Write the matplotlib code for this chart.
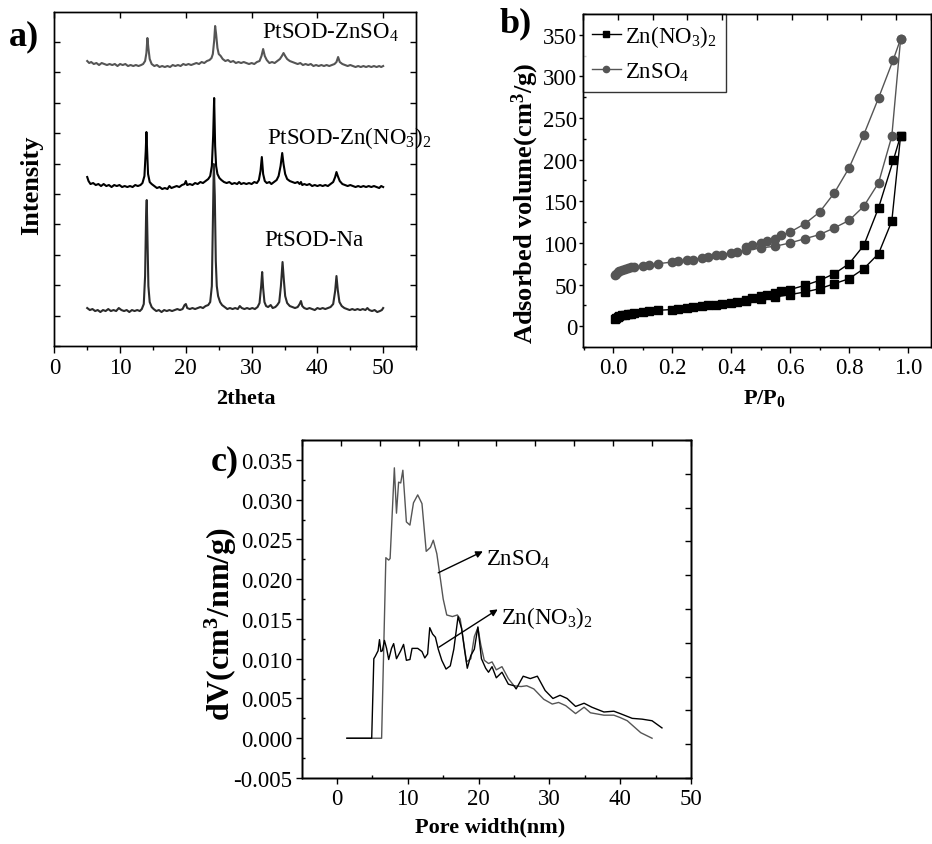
import matplotlib
matplotlib.use('Agg')
import matplotlib.pyplot as plt
from matplotlib.ticker import MultipleLocator, FormatStrFormatter

plt.rcParams['font.family'] = ['Liberation Serif', 'DejaVu Serif']
plt.rcParams['mathtext.fontset'] = 'custom'
plt.rcParams['mathtext.rm'] = 'Liberation Serif'
plt.rcParams['mathtext.it'] = 'Liberation Serif:italic'
plt.rcParams['mathtext.bf'] = 'Liberation Serif:bold'
plt.rcParams['axes.linewidth'] = 1.0

# ---- a) XRD patterns (2theta, intensity in arbitrary units) ----
na_2theta = [5.0, 5.4, 5.8, 6.2, 6.6, 7.0, 7.4, 7.8, 8.2, 8.6, 9.0, 9.4, 9.8, 10.2, 10.6, 11.0, 11.4, 11.8,
             12.2, 12.6, 13.0, 13.3, 13.6, 13.8, 13.95, 14.05, 14.15, 14.3, 14.5, 14.8, 15.1, 15.5, 15.9,
             16.3, 16.7, 17.1, 17.5, 17.9, 18.3, 18.7, 19.1, 19.5, 19.8, 20.0, 20.2, 20.6, 21.0, 21.4,
             21.8, 22.2, 22.6, 23.0, 23.4, 23.7, 23.95, 24.1, 24.25, 24.4, 24.55, 24.7, 24.9, 25.2, 25.5,
             25.9, 26.3, 26.7, 27.1, 27.5, 27.9, 28.2, 28.5, 28.9, 29.3, 29.7, 30.1, 30.5, 30.9, 31.2,
             31.45, 31.6, 31.75, 31.95, 32.2, 32.5, 32.9, 33.2, 33.6, 33.9, 34.2, 34.45, 34.7, 34.9, 35.1,
             35.4, 35.8, 36.2, 36.6, 37.0, 37.3, 37.5, 37.7, 38.0, 38.4, 38.8, 39.2, 39.6, 40.0, 40.4,
             40.8, 41.2, 41.6, 42.0, 42.4, 42.7, 42.9, 43.1, 43.35, 43.7, 44.1, 44.5, 44.9, 45.3, 45.7,
             46.1, 46.5, 46.9, 47.3, 47.6, 47.9, 48.3, 48.7, 49.1, 49.5, 49.8, 50.0]
na_int = [38, 36, 37, 35, 36, 34, 36, 35, 37, 35, 36, 35, 38, 36, 35, 36, 34, 36,
          35, 36, 35, 37, 42, 70, 130, 146, 110, 60, 44, 39, 37, 35, 36,
          34, 36, 35, 36, 35, 36, 37, 36, 37, 41, 42, 38, 37, 38, 37,
          38, 39, 38, 40, 41, 44, 60, 120, 182, 150, 85, 60, 50, 44, 41,
          39, 37, 38, 37, 38, 37, 40, 38, 37, 38, 37, 38, 37, 39, 43,
          60, 74, 58, 44, 40, 39, 41, 38, 39, 41, 44, 60, 84, 66, 50,
          43, 40, 39, 38, 39, 42, 45, 40, 38, 37, 38, 37, 36, 38, 37,
          38, 37, 38, 39, 42, 55, 70, 56, 44, 40, 38, 37, 36, 37, 36,
          37, 36, 37, 36, 38, 36, 35, 36, 34, 35, 36, 38]

no3_2theta = [5.0, 5.2, 5.5, 5.9, 6.3, 6.7, 7.1, 7.5, 7.9, 8.3, 8.7, 9.1, 9.5, 9.9, 10.3, 10.7, 11.1, 11.5,
              11.9, 12.3, 12.7, 13.1, 13.4, 13.7, 13.9, 14.0, 14.1, 14.25, 14.5, 14.8, 15.2, 15.6, 16.0,
              16.4, 16.8, 17.2, 17.5, 17.8, 18.2, 18.6, 19.0, 19.4, 19.8, 20.0, 20.2, 20.6, 21.0, 21.4,
              21.8, 22.2, 22.6, 23.0, 23.4, 23.7, 23.95, 24.15, 24.3, 24.45, 24.6, 24.8, 25.1, 25.4, 25.8,
              26.2, 26.6, 27.0, 27.4, 27.8, 28.1, 28.4, 28.8, 29.2, 29.6, 30.0, 30.4, 30.8, 31.1, 31.35,
              31.55, 31.75, 32.0, 32.3, 32.7, 33.0, 33.4, 33.8, 34.1, 34.4, 34.65, 34.85, 35.1, 35.4, 35.8,
              36.2, 36.6, 37.0, 37.3, 37.5, 37.7, 38.0, 38.4, 38.8, 39.2, 39.6, 40.0, 40.4, 40.8, 41.2,
              41.6, 42.0, 42.4, 42.7, 42.9, 43.1, 43.4, 43.8, 44.2, 44.6, 45.0, 45.4, 45.8, 46.2, 46.6,
              47.0, 47.4, 47.8, 48.2, 48.6, 49.0, 49.4, 49.7, 50.0]
no3_int = [169, 165, 162, 163, 161, 162, 160, 162, 160, 161, 159, 161, 160, 161, 159, 160, 159, 160,
           159, 161, 160, 161, 163, 170, 195, 214, 196, 172, 164, 162, 160, 158, 159,
           157, 158, 157, 160, 158, 159, 160, 159, 161, 162, 165, 161, 162, 161, 163,
           162, 164, 163, 165, 167, 170, 180, 210, 248, 200, 180, 172, 168, 166, 164,
           163, 164, 162, 163, 162, 164, 162, 163, 162, 163, 162, 164, 163, 166, 175,
           189, 172, 165, 163, 164, 162, 164, 166, 170, 180, 193, 182, 172, 167, 165,
           164, 163, 164, 162, 164, 161, 162, 161, 162, 160, 161, 160, 161, 160, 161,
           160, 162, 164, 169, 174, 170, 165, 162, 161, 160, 161, 160, 159, 160, 159,
           160, 159, 160, 159, 160, 159, 158, 160, 159]

so4_2theta = [5.0, 5.3, 5.6, 6.0, 6.4, 6.8, 7.2, 7.6, 8.0, 8.4, 8.8, 9.2, 9.6, 10.0, 10.4, 10.8, 11.2, 11.6,
              12.0, 12.4, 12.8, 13.2, 13.5, 13.8, 14.0, 14.15, 14.3, 14.5, 14.8, 15.2, 15.6, 16.0, 16.4,
              16.8, 17.2, 17.6, 18.0, 18.4, 18.8, 19.2, 19.6, 20.0, 20.4, 20.8, 21.2, 21.6, 22.0, 22.4,
              22.8, 23.2, 23.6, 23.9, 24.1, 24.3, 24.45, 24.6, 24.8, 25.0, 25.3, 25.6, 26.0, 26.4, 26.8,
              27.2, 27.6, 28.0, 28.4, 28.8, 29.2, 29.6, 30.0, 30.4, 30.8, 31.2, 31.5, 31.75, 32.0, 32.3,
              32.7, 33.1, 33.5, 33.9, 34.3, 34.6, 34.85, 35.1, 35.4, 35.8, 36.2, 36.6, 37.0, 37.4, 37.8,
              38.2, 38.6, 39.0, 39.4, 39.8, 40.2, 40.6, 41.0, 41.4, 41.8, 42.2, 42.6, 42.9, 43.15, 43.4,
              43.8, 44.2, 44.6, 45.0, 45.4, 45.8, 46.2, 46.6, 47.0, 47.4, 47.8, 48.2, 48.6, 49.0, 49.4,
              49.7, 50.0]
so4_int = [285, 283, 284, 282, 283, 281, 283, 282, 281, 282, 281, 282, 280, 282, 281, 282, 280, 281,
           280, 281, 280, 281, 282, 285, 293, 308, 298, 287, 282, 280, 281, 279, 280,
           279, 280, 279, 281, 280, 281, 280, 282, 281, 282, 281, 282, 283, 282, 284,
           283, 285, 286, 288, 292, 305, 320, 312, 298, 292, 290, 287, 285, 286, 284,
           285, 283, 284, 283, 284, 283, 282, 283, 282, 284, 285, 290, 297, 290, 286,
           283, 284, 283, 285, 287, 290, 293, 290, 287, 285, 284, 283, 282, 283, 281,
           282, 281, 282, 280, 281, 280, 281, 280, 281, 280, 281, 282, 284, 289, 284,
           282, 281, 280, 281, 280, 279, 280, 279, 280, 279, 280, 279, 280, 279, 280,
           279, 280]

# ---- b) N2 isotherms ----
p_ads = [0.005, 0.01, 0.015, 0.02, 0.03, 0.04, 0.05, 0.06, 0.07, 0.1, 0.12, 0.15, 0.2, 0.22, 0.25,
         0.27, 0.3, 0.32, 0.35, 0.37, 0.4, 0.42, 0.45, 0.5, 0.55, 0.6, 0.65, 0.7, 0.75, 0.8, 0.85,
         0.9, 0.945, 0.975]
zn_no3_ads = [9, 10, 11, 12, 13, 14, 14.5, 15, 16, 17, 18, 19, 20, 21, 22,
              23, 24, 25, 26, 27, 28, 29, 30, 33, 35, 38, 41, 45, 51, 57, 69,
              87, 126, 229]
znso4_ads = [61, 63, 65, 66, 68, 69, 70, 70.5, 71, 72, 73, 75, 77, 78, 79,
             80, 82, 83, 85, 86, 88, 89, 91, 94, 96, 100, 105, 110, 118, 127, 144,
             172, 228, 345]
p_des = [0.975, 0.95, 0.9, 0.85, 0.8, 0.75, 0.7, 0.65, 0.6, 0.57, 0.55, 0.52, 0.5, 0.47, 0.45]
zn_no3_des = [229, 199, 142, 97, 75, 63, 55, 49, 44, 42, 40, 38, 36, 34, 32]
znso4_des = [345, 320, 274, 230, 190, 160, 137, 123, 113, 109, 105, 102, 100, 97, 95]

# ---- c) pore size distribution ----
pore_so4 = [1.4, 6.3, 6.9, 7.3, 7.5, 8.1, 8.4, 8.7, 9.0, 9.3, 9.8, 10.3, 10.8, 11.4, 12.0, 12.6, 13.2,
            13.6, 14.1, 14.5, 15.0, 15.5, 16.3, 17.0, 17.4, 17.9, 18.3, 18.9, 19.4, 19.9, 20.3, 20.8,
            21.4, 21.9, 22.5, 23.3, 24.2, 25.0, 26.0, 26.8, 27.8, 29.2, 30.4, 31.3, 32.3, 33.7, 34.9,
            35.8, 37.7, 39.1, 40.0, 41.0, 42.9, 44.5]
dv_so4 = [0.0, 0.0, 0.0227, 0.0224, 0.0226, 0.0340, 0.0283, 0.0322, 0.0321, 0.0337, 0.0272, 0.0268,
          0.0296, 0.0306, 0.0295, 0.0235, 0.0240, 0.0249, 0.0232, 0.0207, 0.0175, 0.0155, 0.0153,
          0.0155, 0.0150, 0.0120, 0.0096, 0.0100, 0.0128, 0.0139, 0.0118, 0.0098, 0.0094, 0.0096,
          0.0086, 0.0090, 0.0075, 0.0066, 0.0065, 0.0066, 0.0062, 0.0049, 0.0043, 0.0045, 0.0041,
          0.0031, 0.0039, 0.0032, 0.0029, 0.0029, 0.0026, 0.0022, 0.0007, 0.0]
pore_no3 = [1.4, 4.9, 5.2, 5.4, 5.8, 6.0, 6.2, 6.4, 6.7, 7.0, 7.3, 7.7, 8.0, 8.4, 9.0, 9.4, 9.8, 10.3,
            10.6, 11.4, 12.0, 12.4, 12.8, 13.1, 13.5, 13.9, 14.3, 14.8, 15.4, 16.0, 16.5, 17.1, 17.6,
            18.0, 18.4, 18.9, 19.4, 19.9, 20.4, 21.0, 21.4, 21.9, 22.5, 23.3, 24.2, 25.0, 25.3, 26.3,
            27.3, 28.3, 29.4, 30.5, 31.5, 32.5, 33.7, 34.9, 36.0, 37.7, 39.1, 40.0, 41.7, 43.1, 44.5,
            45.9]
dv_no3 = [0.0, 0.0, 0.0100, 0.0103, 0.0110, 0.0124, 0.0109, 0.0110, 0.0123, 0.0113, 0.0099, 0.0113,
          0.0119, 0.0100, 0.0110, 0.0118, 0.0098, 0.0099, 0.0113, 0.0113, 0.0109, 0.0101, 0.0106,
          0.0139, 0.0131, 0.0127, 0.0112, 0.0098, 0.0087, 0.0091, 0.0112, 0.0153, 0.0138, 0.0112,
          0.0088, 0.0104, 0.0112, 0.0140, 0.0100, 0.0088, 0.0083, 0.0090, 0.0076, 0.0083, 0.0068,
          0.0066, 0.0062, 0.0078, 0.0075, 0.0078, 0.0060, 0.0050, 0.0054, 0.0050, 0.0040, 0.0044,
          0.0039, 0.0033, 0.0034, 0.0031, 0.0025, 0.0024, 0.0022, 0.0013]

GRAY = '#555555'
TICK_FS = 16.5
LABEL_FS = 16

fig = plt.figure(figsize=(9.32, 8.45), dpi=100)


def add_frame_ticks(ax, top=True, right=True):
    """ticks dividing the top / right frame into ten equal parts"""
    if top:
        t = ax.twiny()
        t.set_xlim(0, 10)
        t.xaxis.set_major_locator(MultipleLocator(1))
        t.tick_params(axis='x', direction='in', length=4, width=1, labeltop=False)
    if right:
        r = ax.twinx()
        r.set_ylim(0, 10)
        r.yaxis.set_major_locator(MultipleLocator(1))
        r.tick_params(axis='y', direction='in', length=4, width=1, labelright=False)


# ---------------- a) ----------------
ax_a = fig.add_axes([0.0583, 0.5893, 0.3881, 0.3953])
ax_a.plot(na_2theta, na_int, color='#2b2b2b', lw=1.5)
ax_a.plot(no3_2theta, no3_int, color='black', lw=1.5)
ax_a.plot(so4_2theta, so4_int, color=GRAY, lw=1.5)
ax_a.set_xlim(0, 55)
ax_a.set_ylim(0, 334)
ax_a.xaxis.set_major_locator(MultipleLocator(10))
ax_a.xaxis.set_minor_locator(MultipleLocator(5))
ax_a.yaxis.set_major_locator(MultipleLocator(30.4))
ax_a.tick_params(axis='x', which='major', direction='out', length=5, width=1, labelsize=TICK_FS, pad=3)
ax_a.tick_params(axis='x', which='minor', direction='out', length=3, width=1)
ax_a.tick_params(axis='y', which='major', direction='in', length=4, width=1, left=True, right=True,
                 labelleft=False)
ax_a.set_xlabel('2theta', fontsize=LABEL_FS, fontweight='bold')
ax_a.xaxis.set_label_coords(0.53, -0.127)
ax_a.set_ylabel('Intensity', fontsize=19, fontweight='bold')
ax_a.yaxis.set_label_coords(-0.031, 0.485)
ax_a.text(31.6, 314, 'PtSOD-ZnSO$_4$', fontsize=16.5, va='center')
ax_a.text(32.3, 209, 'PtSOD-Zn(NO$_3$)$_2$', fontsize=16.5, va='center')
ax_a.text(32.0, 107, 'PtSOD-Na', fontsize=16.5, va='center')
top_a = ax_a.twiny()
top_a.set_xlim(0, 55)
top_a.xaxis.set_major_locator(MultipleLocator(10))
top_a.tick_params(axis='x', direction='in', length=4, width=1, labeltop=False)
fig.text(0.010, 0.956, 'a)', fontsize=26, fontweight='bold', va='center')

# ---------------- b) ----------------
ax_b = fig.add_axes([0.6255, 0.5882, 0.3734, 0.3941])
ax_b.plot(p_ads, zn_no3_ads, color='black', lw=1.0, marker='s', ms=5.5, label='Zn(NO$_3$)$_2$')
ax_b.plot(p_des, zn_no3_des, color='black', lw=1.0, marker='s', ms=5.5)
ax_b.plot(p_ads, znso4_ads, color=GRAY, lw=1.0, marker='o', ms=6, label='ZnSO$_4$')
ax_b.plot(p_des, znso4_des, color=GRAY, lw=1.0, marker='o', ms=6)
ax_b.set_xlim(-0.103, 1.078)
ax_b.set_ylim(-25, 375)
ax_b.xaxis.set_major_locator(MultipleLocator(0.2))
ax_b.xaxis.set_minor_locator(MultipleLocator(0.1))
ax_b.yaxis.set_major_locator(MultipleLocator(50))
ax_b.yaxis.set_minor_locator(MultipleLocator(25))
ax_b.xaxis.set_major_formatter(FormatStrFormatter('%.1f'))
ax_b.tick_params(axis='x', which='major', direction='out', length=4, width=1, labelsize=TICK_FS, pad=3)
ax_b.tick_params(axis='y', which='major', direction='out', length=3, width=1, labelsize=TICK_FS, pad=1)
ax_b.tick_params(axis='x', which='minor', direction='out', length=2.5, width=1)
ax_b.tick_params(axis='y', which='minor', direction='in', length=2.5, width=1)
ax_b.set_xlabel('P/P$_\\mathbf{0}$', fontsize=LABEL_FS, fontweight='bold')
ax_b.xaxis.set_label_coords(0.52, -0.12)
ax_b.set_ylabel('Adsorbed volume(cm$^\\mathbf{3}$/g)', fontsize=19, fontweight='bold')
ax_b.yaxis.set_label_coords(-0.12, 0.435)
leg = ax_b.legend(loc='upper left', fontsize=16.5, frameon=True, fancybox=False, edgecolor='black',
                  borderaxespad=0, handlelength=1.25, handletextpad=0.2, labelspacing=0.5,
                  borderpad=0.4, markerscale=0.75)
leg.get_frame().set_linewidth(1.0)
add_frame_ticks(ax_b, top=True, right=False)
fig.text(0.536, 0.972, 'b)', fontsize=26, fontweight='bold', va='center')

# ---------------- c) ----------------
ax_c = fig.add_axes([0.3240, 0.0781, 0.4174, 0.4000])
ax_c.plot(pore_so4, dv_so4, color=GRAY, lw=1.0)
ax_c.plot(pore_no3, dv_no3, color='black', lw=1.0)
ax_c.set_xlim(-4.95, 50)
ax_c.set_ylim(-0.005, 0.0375)
ax_c.xaxis.set_major_locator(MultipleLocator(10))
ax_c.xaxis.set_minor_locator(MultipleLocator(5))
ax_c.yaxis.set_major_locator(MultipleLocator(0.005))
ax_c.yaxis.set_minor_locator(MultipleLocator(0.0025))
ax_c.yaxis.set_major_formatter(FormatStrFormatter('%.3f'))
ax_c.tick_params(axis='both', which='major', direction='out', length=4, width=1, labelsize=TICK_FS, pad=3)
ax_c.tick_params(axis='both', which='minor', direction='in', length=2.5, width=1)
ax_c.set_xlabel('Pore width(nm)', fontsize=LABEL_FS, fontweight='bold')
ax_c.xaxis.set_label_coords(0.483, -0.113)
ax_c.set_ylabel('dV(cm$^\\mathbf{3}$/nm/g)', fontsize=23, fontweight='bold')
ax_c.yaxis.set_label_coords(-0.163, 0.46)
arrow = dict(arrowstyle='-|>', color='black', lw=1.0, mutation_scale=10, shrinkA=0, shrinkB=0)
ax_c.annotate('', xy=(20.6, 0.0235), xytext=(14.3, 0.0208), arrowprops=arrow)
ax_c.annotate('', xy=(22.7, 0.0162), xytext=(14.4, 0.01145), arrowprops=arrow)
ax_c.text(21.0, 0.0225, 'ZnSO$_4$', fontsize=16.5, va='center')
ax_c.text(23.2, 0.0152, 'Zn(NO$_3$)$_2$', fontsize=16.5, va='center')
add_frame_ticks(ax_c, top=True, right=True)
fig.text(0.226, 0.453, 'c)', fontsize=26, fontweight='bold', va='center')

fig.savefig('out.png', dpi=100)
